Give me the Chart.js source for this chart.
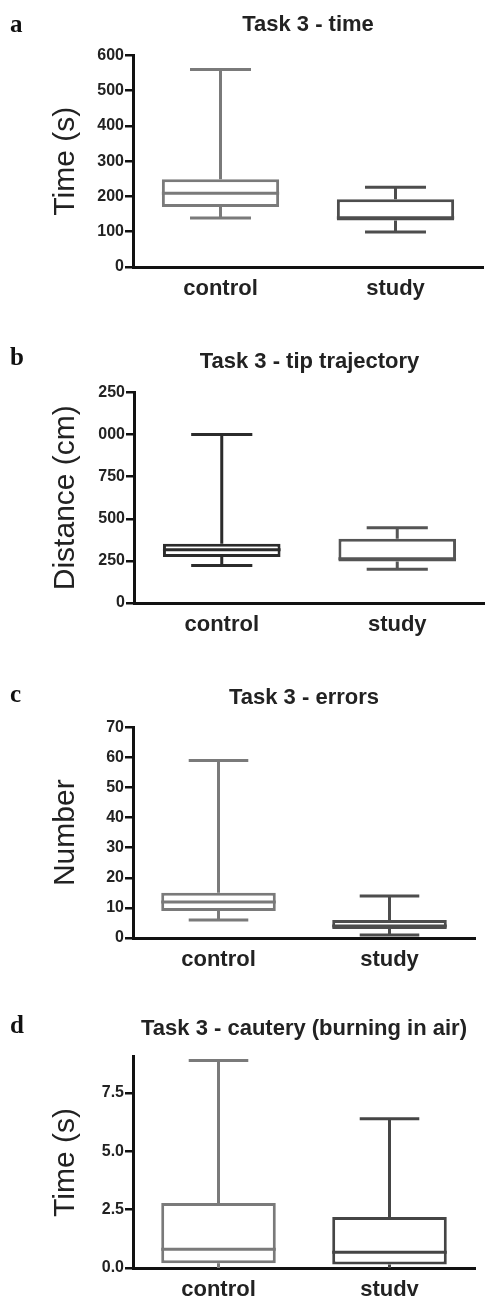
<!DOCTYPE html>
<html>
<head>
<meta charset="utf-8">
<script src="https://cdn.jsdelivr.net/npm/chart.js@4.4.1/dist/chart.umd.min.js"></script>
<style>
  html, body { margin: 0; padding: 0; background: #fff; }
  #page { position: relative; width: 485px; height: 1296px; overflow: hidden; }
  .panel { position: absolute; left: 0; width: 485px; }
  .letter { position: absolute; left: 10px; font: bold 25px 'Liberation Serif', 'Times New Roman', serif; line-height: 24px; color: #111; }
</style>
</head>
<body>
<div id="page"></div>
<script>
const categories = ['control', 'study'];

// five-number summaries: min, q1, median, q3, max
const timeControl = [139, 170, 209, 249, 560];
const timeStudy = [99, 132, 140, 192, 226];
const timeTicks = [0, 100, 200, 300, 400, 500, 600];

const tipControl = [223, 273, 316, 352, 1000];
const tipStudy = [200, 247, 263, 382, 447];
const tipTicks = [0, 250, 500, 750, 1000, 1250];

const errControl = [6, 9, 12, 15, 59];
const errStudy = [1, 3, 4, 6, 14];
const errTicks = [0, 10, 20, 30, 40, 50, 60, 70];

const cautControl = [0, 0.2, 0.8, 2.79, 8.9];
const cautStudy = [0, 0.15, 0.68, 2.19, 6.4];
const cautTicks = [0, 2.5, 5, 7.5];

const FONT = "'Liberation Sans', Arial, sans-serif";
const INK = '#111';

// whiskers + median line on top of the floating bars
const boxWhiskers = {
  id: 'boxWhiskers',
  afterDatasetsDraw(chart) {
    const ds = chart.data.datasets[0];
    const meta = chart.getDatasetMeta(0);
    const y = chart.scales.y;
    const ctx = chart.ctx;
    ctx.save();
    ctx.lineWidth = 3;
    ctx.lineCap = 'butt';
    meta.data.forEach((bar, i) => {
      const [mn, q1, med, q3, mx] = ds.stats[i];
      const half = bar.width / 2;
      const cap = bar.width * 0.26;
      ctx.strokeStyle = ds.borderColor[i];
      ctx.beginPath();
      ctx.moveTo(bar.x - half, y.getPixelForValue(med));
      ctx.lineTo(bar.x + half, y.getPixelForValue(med));
      ctx.moveTo(bar.x, y.getPixelForValue(q3));
      ctx.lineTo(bar.x, y.getPixelForValue(mx));
      ctx.moveTo(bar.x, y.getPixelForValue(q1));
      ctx.lineTo(bar.x, y.getPixelForValue(mn));
      [mn, mx].forEach(v => {
        if (v <= y.min) return;
        ctx.moveTo(bar.x - cap, y.getPixelForValue(v));
        ctx.lineTo(bar.x + cap, y.getPixelForValue(v));
      });
      ctx.stroke();
    });
    ctx.restore();
  }
};

const panels = [
  { letter: 'a', title: 'Task 3 - time', yLabel: 'Time (s)', stats: [timeControl, timeStudy], ticks: timeTicks,
    max: 600, fmt: v => v, colors: ['#7a7a7a', '#4d4d4d'],
    top: 0, height: 305, yW: 133, padRight: 2, tPad: { top: 12, bottom: 17 }, xH: 38, letterTop: 12 },
  { letter: 'b', title: 'Task 3 - tip trajectory', yLabel: 'Distance (cm)', stats: [tipControl, tipStudy], ticks: tipTicks,
    max: 1250, fmt: v => String(v).slice(-3), colors: ['#2b2b2b', '#555555'],
    top: 310, height: 331, yW: 134, padRight: 0, tPad: { top: 39, bottom: 17 }, xH: 38, letterTop: 345 },
  { letter: 'c', title: 'Task 3 - errors', yLabel: 'Number', stats: [errControl, errStudy], ticks: errTicks,
    max: 70, fmt: v => v, colors: ['#7a7a7a', '#4d4d4d'],
    top: 640, height: 336, yW: 133, padRight: 10, tPad: { top: 44.5, bottom: 16.5 }, xH: 38, letterTop: 682 },
  { letter: 'd', title: 'Task 3 - cautery (burning in air)', yLabel: 'Time (s)', stats: [cautControl, cautStudy], ticks: cautTicks,
    max: 9.05, fmt: v => v.toFixed(1), colors: ['#7a7a7a', '#454545'],
    top: 970, height: 326, yW: 133, padRight: 10, tPad: { top: 45.5, bottom: 15 }, xH: 28, letterTop: 1013 },
];

const page = document.getElementById('page');

panels.forEach(p => {
  const wrap = document.createElement('div');
  wrap.className = 'panel';
  wrap.style.top = p.top + 'px';
  wrap.style.height = p.height + 'px';
  const canvas = document.createElement('canvas');
  wrap.appendChild(canvas);
  page.appendChild(wrap);

  const letter = document.createElement('div');
  letter.className = 'letter';
  letter.style.top = p.letterTop + 'px';
  letter.textContent = p.letter;
  page.appendChild(letter);

  new Chart(canvas, {
    type: 'bar',
    data: {
      labels: categories,
      datasets: [{
        data: p.stats.map(s => [s[1], s[3]]),
        stats: p.stats,
        backgroundColor: '#fff',
        borderColor: p.colors,
        borderWidth: 3,
        borderSkipped: false,
        barPercentage: 0.67,
        categoryPercentage: 1,
      }],
    },
    options: {
      responsive: true,
      maintainAspectRatio: false,
      animation: false,
      layout: { padding: { left: 0, right: p.padRight, top: 0, bottom: 0 } },
      plugins: {
        legend: { display: false },
        tooltip: { enabled: false },
        title: {
          display: true,
          text: p.title,
          fullSize: false,
          color: '#222',
          font: { family: FONT, size: 22, weight: 'bold' },
          padding: p.tPad,
        },
      },
      scales: {
        x: {
          grid: { display: false },
          border: { display: true, color: INK, width: 3 },
          ticks: { color: '#222', font: { family: FONT, size: 22, weight: 'bold' }, padding: 1 },
          afterFit: s => { s.height = p.xH; },
        },
        y: {
          min: 0,
          max: p.max,
          afterBuildTicks: s => { s.ticks = p.ticks.map(v => ({ value: v })); },
          grid: { display: true, drawOnChartArea: false, drawTicks: true, tickLength: 8, color: INK, lineWidth: 2.5 },
          border: { display: true, color: INK, width: 3 },
          ticks: { color: '#222', font: { family: FONT, size: 16, weight: 'bold' }, padding: 1, callback: v => p.fmt(v) },
          title: {
            display: true,
            text: p.yLabel,
            color: '#222',
            font: { family: FONT, size: 30, weight: 'normal' },
            padding: { top: 48, bottom: 0 },
          },
          afterFit: s => { s.width = p.yW; },
        },
      },
    },
    plugins: [boxWhiskers],
  });
});
</script>
</body>
</html>
